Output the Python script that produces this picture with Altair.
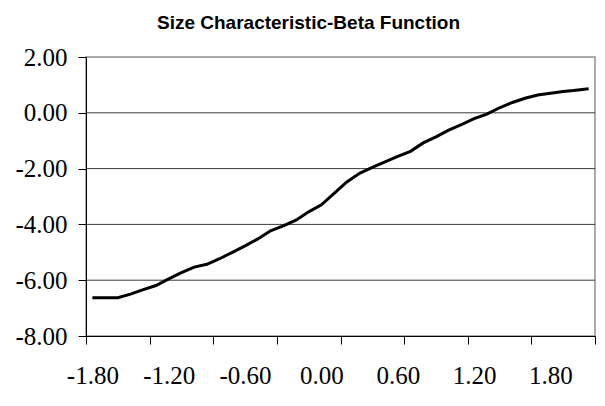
import altair as alt
import pandas as pd

# Category values on the horizontal axis (Excel category axis, step 0.1)
x_values = [-1.8, -1.7, -1.6, -1.5, -1.4, -1.3, -1.2, -1.1, -1.0, -0.9,
            -0.8, -0.7, -0.6, -0.5, -0.4, -0.3, -0.2, -0.1, 0.0, 0.1,
            0.2, 0.3, 0.4, 0.5, 0.6, 0.7, 0.8, 0.9, 1.0, 1.1,
            1.2, 1.3, 1.4, 1.5, 1.6, 1.7, 1.8, 1.9, 2.0, 2.1]
# Beta function values
beta_values = [-6.63, -6.63, -6.63, -6.50, -6.34, -6.19, -5.95, -5.73, -5.53, -5.43,
               -5.23, -5.00, -4.77, -4.52, -4.23, -4.05, -3.85, -3.55, -3.30, -2.89,
               -2.48, -2.17, -1.96, -1.76, -1.56, -1.38, -1.08, -0.86, -0.62, -0.42,
               -0.21, -0.05, 0.18, 0.37, 0.52, 0.64, 0.70, 0.76, 0.81, 0.86]

x_domain = [-1.85, 2.15]
x_tick_marks = [-1.85, -1.35, -0.85, -0.35, 0.15, 0.65, 1.15, 1.65, 2.15]
x_tick_labels = [-1.8, -1.2, -0.6, 0.0, 0.6, 1.2, 1.8]
y_ticks = [-8, -6, -4, -2, 0, 2]
y_grid = [-6, -4, -2, 0]

df = pd.DataFrame({"x": x_values, "beta": beta_values})
grid_df = pd.DataFrame({"g": y_grid})

serif = "Liberation Serif"
hyphen_label = "replace(format(datum.value, '.2f'), '\u2212', '-')"

y_scale = alt.Scale(domain=[-8, 2], nice=False, zero=False)
x_scale = alt.Scale(domain=x_domain, nice=False, zero=False)

y_axis = alt.Axis(values=y_ticks, labelExpr=hyphen_label, grid=False, title=None,
                  domainColor="black", domainWidth=1, tickColor="black",
                  tickSize=8, labelFont=serif, labelFontSize=25,
                  labelColor="black", labelPadding=11)

grid = alt.Chart(grid_df).mark_rule(color="#3a3a3a", strokeWidth=1).encode(
    y=alt.Y("g:Q", scale=y_scale, axis=y_axis)
)

line = alt.Chart(df).mark_line(color="black", strokeWidth=3).encode(
    x=alt.X("x:Q", scale=x_scale,
            axis=alt.Axis(values=x_tick_marks, labels=False, grid=False,
                          title=None, orient="bottom", domainColor="black",
                          tickColor="black", tickSize=8)),
    y=alt.Y("beta:Q", scale=y_scale, axis=y_axis),
)

labels = alt.Chart(df).mark_point(opacity=0).encode(
    x=alt.X("x:Q", scale=x_scale,
            axis=alt.Axis(values=x_tick_labels, labelExpr=hyphen_label, ticks=False,
                          domain=False, grid=False, title=None, orient="bottom",
                          labelFont=serif, labelFontSize=25, labelColor="black",
                          labelPadding=27)),
    y=alt.Y("beta:Q", scale=y_scale, axis=y_axis),
)

chart = alt.layer(grid, line, labels).resolve_axis(x="independent").properties(
    width=509,
    height=279,
    autosize=alt.AutoSizeParams(type="none"),
    padding={"left": 78, "top": 49, "right": 2, "bottom": 60},
    title=alt.TitleParams("Size Characteristic-Beta Function",
                          font="Liberation Sans", fontSize=19,
                          fontWeight="bold", color="black",
                          anchor="middle", frame="group", dx=-32, offset=12),
).configure_view(stroke="#909090", strokeWidth=1.5)

chart.save("out.html", embed_options={"renderer": "svg", "actions": False})
